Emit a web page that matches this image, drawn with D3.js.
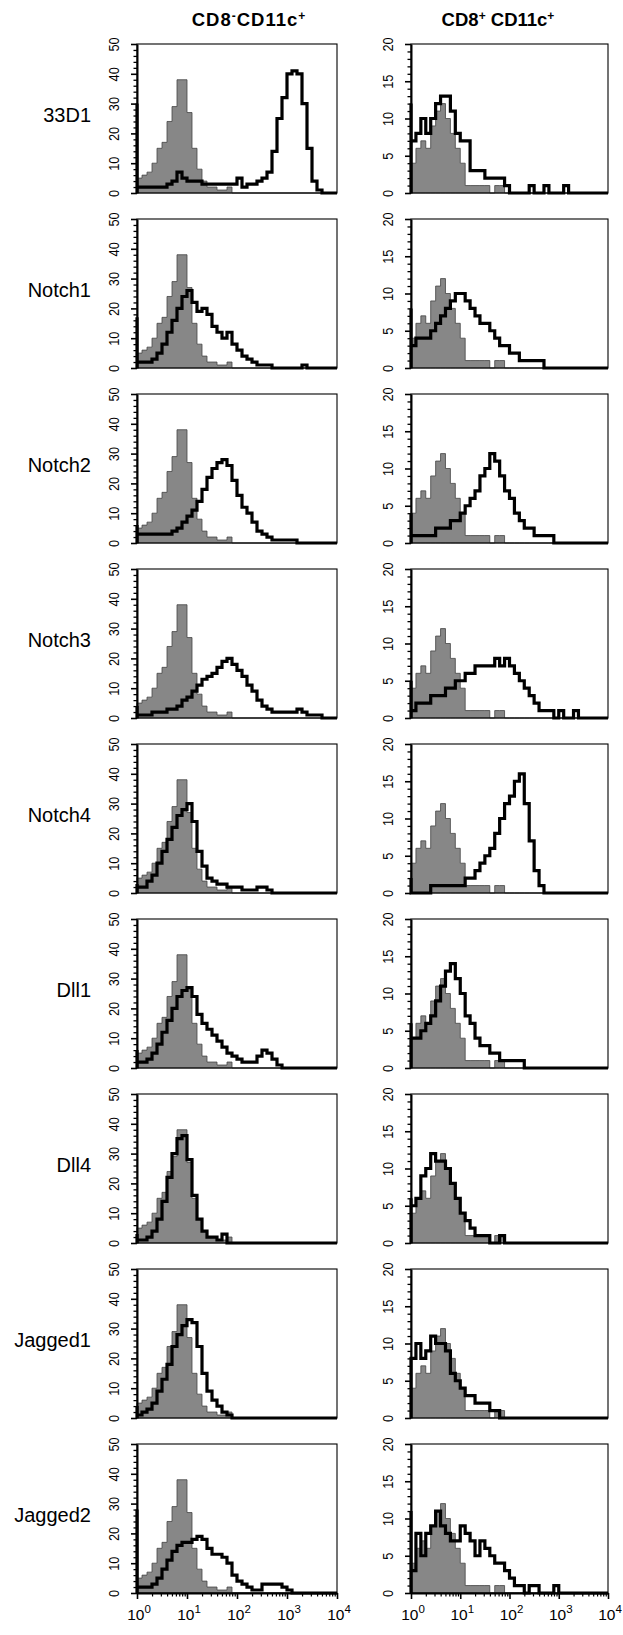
<!DOCTYPE html>
<html>
<head>
<meta charset="utf-8">
<script src="https://cdnjs.cloudflare.com/ajax/libs/d3/7.8.5/d3.min.js"></script>
<style>
  body { margin: 0; background: #fff; }
  svg text { font-family: "Liberation Sans", Arial, Helvetica, sans-serif; fill: #000; }
</style>
</head>
<body>
<svg id="chart" width="623" height="1635"></svg>
<script>
// row markers
const rowLabels = ["33D1", "Notch1", "Notch2", "Notch3", "Notch4", "Dll1", "Dll4", "Jagged1", "Jagged2"];

// histogram bin edges, log10 of fluorescence (0.1 decade per channel group)
const binEdges = [0.0,0.1,0.2,0.3,0.4,0.5,0.6,0.7,0.8,0.9,1.0,1.1,1.2,1.3,1.4,1.5,1.6,1.7,1.8,1.9,
                  2.0,2.1,2.2,2.3,2.4,2.5,2.6,2.7,2.8,2.9,3.0,3.1,3.2,3.3,3.4,3.5,3.6,3.7,3.8,3.9,4.0];

const yTicksLeft = [0, 10, 20, 30, 40, 50];
const yTicksRight = [0, 5, 10, 15, 20];
const xTicks = [1, 10, 100, 1000, 10000];
const xTickExp = ["0", "1", "2", "3", "4"];

// isotype control (grey) for each column
const ctrlLeft  = [5,6,7,10,15,17,24,29,38,38, 27,15,8,4,2,2,1,1,2,0, 0,0,0,0,0,0,0,0,0,0, 0,0,0,0,0,0,0,0,0,0];
const ctrlRight = [4,6,7,6,9,11,12,10,8,6, 4,1,1,1,1,1,0,1,1,0, 0,0,0,0,0,0,0,0,0,0, 0,0,0,0,0,0,0,0,0,0];

// CD8- CD11c+ stained (black line)
const left33D1    = [2,2,2,2,2,2,3,4,7,5, 4,4,4,3,3,3,3,3,3,3, 5,2,3,3,4,5,7,14,25,32, 40,41,40,30,15,4,1,0,0,0];
const leftNotch1  = [2,2,2,3,5,8,12,16,20,24, 26,22,19,20,18,14,12,10,12,8, 6,4,3,2,1,1,1,0,0,0, 0,0,0,1,0,0,0,0,0,0];
const leftNotch2  = [3,3,3,3,3,3,3,4,5,7, 9,11,14,18,22,25,27,28,26,21, 16,12,10,7,4,3,2,1,1,1, 1,1,0,0,0,0,0,0,0,0];
const leftNotch3  = [1,1,1,2,2,2,3,3,4,6, 7,9,11,13,14,15,17,19,20,18, 16,14,11,9,6,4,3,2,2,2, 2,2,3,2,1,1,1,0,0,0];
const leftNotch4  = [2,2,4,6,10,14,18,22,26,28, 30,24,14,9,5,4,3,3,2,2, 2,1,1,1,2,2,1,0,0,0, 0,0,0,0,0,0,0,0,0,0];
const leftDll1    = [2,2,3,5,8,12,16,20,24,26, 27,24,18,15,13,11,9,7,5,4, 3,2,2,2,4,6,5,3,1,0, 0,0,0,0,0,0,0,0,0,0];
const leftDll4    = [1,1,2,4,8,14,22,30,35,36, 28,16,8,4,2,2,1,3,0,0, 0,0,0,0,0,0,0,0,0,0, 0,0,0,0,0,0,0,0,0,0];
const leftJagged1 = [1,2,3,5,9,13,18,24,28,31, 33,32,24,15,9,6,4,2,1,0, 0,0,0,0,0,0,0,0,0,0, 0,0,0,0,0,0,0,0,0,0];
const leftJagged2 = [2,2,2,3,5,8,11,14,16,17, 17,18,19,18,15,13,13,12,10,6, 4,3,2,1,1,3,3,3,3,2, 1,0,0,0,0,0,0,0,0,0];

// CD8+ CD11c+ stained (black line)
const right33D1    = [7,8,10,8,10,12,13,13,11,8, 7,7,3,3,3,2,2,2,2,1, 0,0,0,0,1,0,0,1,0,0, 0,1,0,0,0,0,0,0,0,0];
const rightNotch1  = [3,4,4,4,5,6,7,8,9,10, 10,9,8,7,6,6,5,4,3,3, 2,2,1,1,1,1,1,0,0,0, 0,0,0,0,0,0,0,0,0,0];
const rightNotch2  = [1,1,1,1,1,2,2,2,3,3, 4,5,6,7,9,10,12,11,9,7, 6,4,3,2,2,1,1,1,1,0, 0,0,0,0,0,0,0,0,0,0];
const rightNotch3  = [1,2,2,2,3,3,3,4,4,5, 5,6,6,7,7,7,7,8,7,8, 7,6,5,4,3,2,1,1,1,0, 1,0,0,1,0,0,0,0,0,0];
const rightNotch4  = [0,0,0,0,1,1,1,1,1,1, 1,2,2,3,4,5,6,8,10,12, 13,15,16,12,7,3,1,0,0,0, 0,0,0,0,0,0,0,0,0,0];
const rightDll1    = [4,4,5,6,7,9,11,13,14,12, 10,7,6,4,3,3,2,2,1,1, 1,1,1,0,0,0,0,0,0,0, 0,0,0,0,0,0,0,0,0,0];
const rightDll4    = [5,6,9,10,12,11,11,10,8,6, 4,3,2,1,1,1,0,0,1,0, 0,0,0,0,0,0,0,0,0,0, 0,0,0,0,0,0,0,0,0,0];
const rightJagged1 = [8,10,8,9,11,10,10,9,6,5, 4,3,3,2,2,2,1,1,0,0, 0,0,0,0,0,0,0,0,0,0, 0,0,0,0,0,0,0,0,0,0];
const rightJagged2 = [3,8,5,8,9,11,9,8,7,7, 9,8,7,5,7,6,5,4,4,3, 2,1,1,0,1,1,0,0,0,1, 0,0,0,0,0,0,0,0,0,0];

// events piled up on the lower axis limit (first channel)
const edgeLeft  = [30, 17, 6, 4, 3, 6, 3, 4, 28];
const edgeRight = [12, 8, 4, 5, 2, 6, 6, 8, 11];

const stainLeft  = [left33D1, leftNotch1, leftNotch2, leftNotch3, leftNotch4, leftDll1, leftDll4, leftJagged1, leftJagged2];
const stainRight = [right33D1, rightNotch1, rightNotch2, rightNotch3, rightNotch4, rightDll1, rightDll4, rightJagged1, rightJagged2];

// layout
const cols = [
  { x: 137, w: 200, yMax: 50, ticks: yTicksLeft, minorStep: 2, ctrl: ctrlLeft, stain: stainLeft, edge: edgeLeft,
    header: [["CD8", 0], ["-", 1], ["CD11c", 0], ["+", 1]], hx: 249, spacing: 1 },
  { x: 411, w: 197, yMax: 20, ticks: yTicksRight, minorStep: 1, ctrl: ctrlRight, stain: stainRight, edge: edgeRight,
    header: [["CD8", 0], ["+", 1], [" CD11c", 0], ["+", 1]], hx: 498, spacing: 0 }
];
const top0 = 44, pitch = 175, panelH = 149;

const svg = d3.select("#chart");

// column headers
cols.forEach(c => {
  const t = svg.append("text")
    .attr("x", c.hx).attr("y", 26)
    .attr("text-anchor", "middle")
    .attr("letter-spacing", c.spacing)
    .attr("font-size", 18.5).attr("font-weight", "bold");
  c.header.forEach(([s, sup], i) => {
    t.append("tspan").text(s)
      .attr("font-size", sup ? 12 : 18.5)
      .attr("dy", sup ? -6 : (i === 0 ? 0 : 6));
  });
});

rowLabels.forEach((lab, r) => {
  const top = top0 + r * pitch;
  svg.append("text")
    .attr("x", 91).attr("y", top + 78)
    .attr("text-anchor", "end")
    .attr("font-size", 20)
    .text(lab);

  cols.forEach(c => {
    const g = svg.append("g");
    const x = d3.scaleLog().domain([1, 10000]).range([c.x, c.x + c.w]);
    const y = d3.scaleLinear().domain([0, c.yMax]).range([top + panelH, top]);
    const xe = e => x(Math.pow(10, e));

    // grey control histogram
    const ctrlPts = binEdges.map((e, i) => [e, c.ctrl[Math.min(i, c.ctrl.length - 1)]]);
    g.append("path")
      .datum(ctrlPts)
      .attr("fill", "#878787")
      .attr("stroke", "#444")
      .attr("stroke-width", 0.8)
      .attr("d", d3.area().curve(d3.curveStepAfter)
        .x(d => xe(d[0])).y0(y(0)).y1(d => y(d[1])));

    // black stained histogram
    const s = c.stain[r];
    const stainPts = [[0, 0], [0, c.edge[r]]].concat(binEdges.map((e, i) => [e, s[Math.min(i, s.length - 1)]]));
    g.append("path")
      .datum(stainPts)
      .attr("fill", "none")
      .attr("stroke", "#000")
      .attr("stroke-width", 3.2)
      .attr("d", d3.line().curve(d3.curveStepAfter)
        .x(d => xe(d[0])).y(d => y(d[1])));

    // frame
    g.append("rect")
      .attr("x", c.x).attr("y", top)
      .attr("width", c.w).attr("height", panelH)
      .attr("fill", "none").attr("stroke", "#000").attr("stroke-width", 1.1);

    // y axis, R style (labels parallel to the axis)
    const yAxis = g.append("g")
      .attr("transform", `translate(${c.x},0)`)
      .call(d3.axisLeft(y).tickValues(c.ticks).tickSize(6).tickSizeOuter(0).tickFormat(d3.format("d")));
    yAxis.select(".domain").attr("stroke-width", 2);
    yAxis.selectAll(".tick line").attr("stroke-width", 1.6);
    yAxis.selectAll(".tick text")
      .attr("x", null).attr("dy", null)
      .attr("text-anchor", "middle")
      .attr("font-size", 15)
      .attr("transform", "translate(-18,0) rotate(-90) scale(0.85,1)");

    const minor = d3.range(0, c.yMax + 0.01, c.minorStep).filter(v => c.ticks.indexOf(v) < 0);
    g.append("g")
      .attr("transform", `translate(${c.x},0)`)
      .call(d3.axisLeft(y).tickValues(minor).tickSize(3.5).tickFormat(""))
      .call(a => a.select(".domain").remove())
      .selectAll(".tick line").attr("stroke-width", 1.3);

    // x axis only on the bottom row
    if (r === rowLabels.length - 1) {
      const xa = g.append("g")
        .attr("transform", `translate(0,${top + panelH})`)
        .call(d3.axisBottom(x).tickValues(xTicks).tickSize(6).tickSizeOuter(0).tickFormat(""));
      xa.select(".domain").attr("stroke-width", 2);
      xa.selectAll(".tick line").attr("stroke-width", 1.6);

      const minorX = [];
      xTicks.slice(0, -1).forEach(t => [2, 3, 4, 5, 6, 7, 8, 9].forEach(m => minorX.push(t * m)));
      g.append("g")
        .attr("transform", `translate(0,${top + panelH})`)
        .call(d3.axisBottom(x).tickValues(minorX).tickSize(3.5).tickFormat(""))
        .call(a => a.select(".domain").remove())
        .selectAll(".tick line").attr("stroke-width", 1.2);

      xTicks.forEach((t, i) => {
        const lab = g.append("text")
          .attr("x", x(t) + 2).attr("y", top + panelH + 27)
          .attr("text-anchor", "middle")
          .attr("font-size", 15.5);
        lab.append("tspan").text("10");
        lab.append("tspan").text(xTickExp[i]).attr("font-size", 11.5).attr("dy", -7);
      });
    }
  });
});
</script>
</body>
</html>
